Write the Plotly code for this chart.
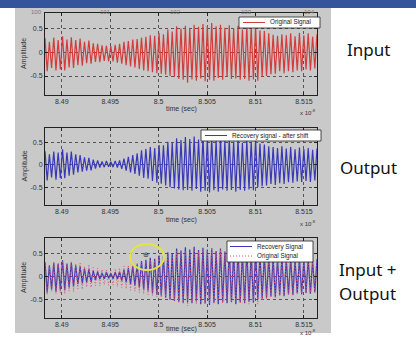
import numpy as np
import plotly.graph_objects as go

W, H = 416, 338

# ---------------- data ----------------
t_start = 8.48827          # left edge of the time window (x 1e-8 s)
t_end = 8.51635            # right edge
x_ticks = [8.49, 8.495, 8.5, 8.505, 8.51, 8.515]
x_tick_text = ["8.49", "8.495", "8.5", "8.505", "8.51", "8.515"]
y_ticks = [-0.5, 0, 0.5]
y_tick_text = ["-0.5", "0", "0.5"]

# per-cycle crest / trough values of the original (input) signal
orig_peaks = [0.30, 0.22, 0.31, 0.26, 0.34, 0.27, 0.32, 0.26, 0.29, 0.22, 0.25, 0.19, 0.18, 0.15,
              0.14, 0.13, 0.16, 0.18, 0.22, 0.24, 0.27, 0.28, 0.31, 0.33, 0.36, 0.35, 0.41, 0.38,
              0.48, 0.44, 0.55, 0.50, 0.56, 0.52, 0.58, 0.54, 0.60, 0.56, 0.62, 0.55, 0.58, 0.52,
              0.57, 0.50, 0.56, 0.48, 0.55, 0.52, 0.55, 0.46, 0.45, 0.40, 0.37, 0.35, 0.38, 0.36,
              0.40, 0.34, 0.41, 0.36, 0.40, 0.33, 0.38]
orig_troughs = [-0.40, -0.33, -0.38, -0.36, -0.38, -0.32, -0.33, -0.27, -0.28, -0.23, -0.24, -0.20,
                -0.21, -0.18, -0.19, -0.19, -0.22, -0.24, -0.27, -0.30, -0.32, -0.35, -0.38, -0.40,
                -0.42, -0.44, -0.45, -0.47, -0.50, -0.52, -0.56, -0.58, -0.64, -0.57, -0.60, -0.55,
                -0.61, -0.58, -0.60, -0.54, -0.58, -0.52, -0.56, -0.55, -0.58, -0.56, -0.60, -0.57,
                -0.60, -0.52, -0.50, -0.46, -0.45, -0.40, -0.44, -0.40, -0.42, -0.38, -0.40, -0.36,
                -0.38, -0.34]

# per-cycle crest / trough values of the recovered (output) signal
rec_peaks = [0.31, 0.24, 0.30, 0.28, 0.35, 0.28, 0.30, 0.24, 0.22, 0.17, 0.16, 0.12, 0.10, 0.08,
             0.09, 0.07, 0.09, 0.10, 0.14, 0.18, 0.22, 0.26, 0.33, 0.36, 0.40, 0.38, 0.45, 0.44,
             0.52, 0.50, 0.60, 0.56, 0.63, 0.58, 0.64, 0.57, 0.62, 0.58, 0.61, 0.55, 0.60, 0.54,
             0.58, 0.52, 0.57, 0.50, 0.56, 0.52, 0.57, 0.48, 0.46, 0.42, 0.40, 0.38, 0.42, 0.37,
             0.40, 0.35, 0.39, 0.36, 0.38, 0.34, 0.37]
rec_troughs = [-0.35, -0.28, -0.33, -0.30, -0.30, -0.24, -0.22, -0.17, -0.15, -0.13, -0.12, -0.08,
               -0.06, -0.05, -0.04, -0.05, -0.06, -0.09, -0.13, -0.17, -0.20, -0.24, -0.29, -0.31,
               -0.36, -0.40, -0.42, -0.46, -0.50, -0.53, -0.55, -0.57, -0.56, -0.58, -0.54, -0.60,
               -0.58, -0.62, -0.57, -0.60, -0.55, -0.58, -0.56, -0.60, -0.56, -0.58, -0.55, -0.57,
               -0.50, -0.48, -0.46, -0.43, -0.45, -0.41, -0.43, -0.39, -0.40, -0.37, -0.38, -0.36,
               -0.38, -0.35]

top_labels = ["100", "101", "102", "103", "104"]
legend_names = ["Original Signal", "Recovery signal - after shift", "Recovery Signal", "Original Signal"]
side_labels = ["Input", "Output", "Input +", "Output"]


def build(peaks, troughs):
    n = len(peaks)
    period = (t_end - t_start) / (n - 1)
    t, y = [], []
    for i in range(n):
        t.append(t_start + i * period)
        y.append(peaks[i])
        if i < len(troughs):
            t.append(t_start + (i + 0.5) * period)
            y.append(troughs[i])
    return np.array(t), np.array(y)


t_o, y_o = build(orig_peaks, orig_troughs)
t_r, y_r = build(rec_peaks, rec_troughs)

RED = "#d43c3c"
BLUE = "#3838b8"
RED_DOT = "#e0506a"


def px(x):
    return x / W


def py(y):
    return 1 - y / H


doms = [(13, 95), (128, 205), (238, 318)]
xdom = [px(45), px(317)]

fig = go.Figure()
fig.add_trace(go.Scatter(x=t_o, y=y_o, mode="lines", line=dict(color=RED, width=1.2),
                         name=legend_names[0], xaxis="x", yaxis="y", showlegend=False))
fig.add_trace(go.Scatter(x=t_r, y=y_r, mode="lines", line=dict(color=BLUE, width=1.2),
                         name=legend_names[1], xaxis="x2", yaxis="y2", showlegend=False))
fig.add_trace(go.Scatter(x=t_r, y=y_r, mode="lines", line=dict(color=BLUE, width=1.2),
                         name=legend_names[2], xaxis="x3", yaxis="y3", showlegend=False))
fig.add_trace(go.Scatter(x=t_o, y=y_o, mode="lines",
                         line=dict(color=RED_DOT, width=1, dash="1px,2px"),
                         name=legend_names[3], xaxis="x3", yaxis="y3", showlegend=False))

tickfont = dict(family="Liberation Sans, Arial, sans-serif", size=7, color="#333")
axis_common = dict(showline=True, linecolor="#222", linewidth=1, mirror="ticks",
                   ticks="inside", ticklen=3, tickcolor="#222", showgrid=True,
                   gridcolor="#555", griddash="dot", gridwidth=0.6, zeroline=False,
                   tickfont=tickfont)

layout = dict(width=W, height=H, margin=dict(l=0, r=0, t=0, b=0),
              paper_bgcolor="white", plot_bgcolor="white", showlegend=False)
for k, (top, bot) in enumerate(doms):
    s = "" if k == 0 else str(k + 1)
    layout["xaxis" + s] = dict(domain=xdom, range=[t_start, t_end], tickvals=x_ticks,
                               ticktext=x_tick_text, anchor="y" + s, **axis_common)
    layout["yaxis" + s] = dict(domain=[py(bot), py(top)], range=[-0.9, 0.83], tickvals=y_ticks,
                               ticktext=y_tick_text, anchor="x" + s, **axis_common)
fig.update_layout(**layout)


def prect(x0, y0, x1, y1, **kw):
    return dict(type="rect", xref="paper", yref="paper", x0=px(x0), x1=px(x1),
                y0=py(y1), y1=py(y0), **kw)


def pline(x0, x1, y, color, dash="solid"):
    return dict(type="line", xref="paper", yref="paper", x0=px(x0), x1=px(x1), y0=py(y), y1=py(y),
                line=dict(color=color, width=1, dash=dash))


shapes = [
    prect(15, 8, 331, 333, fillcolor="#c9c9c9", line=dict(width=0), layer="below"),
    prect(0, 0, 416, 8, fillcolor="#34559c", line=dict(width=0), layer="below"),
    # legend boxes
    prect(239, 17, 320, 28, fillcolor="white", line=dict(color="#222", width=0.8)),
    pline(243, 265, 22.5, RED),
    prect(201, 130, 321, 141, fillcolor="white", line=dict(color="#222", width=0.8)),
    pline(205, 227, 135.5, BLUE),
    prect(227, 241, 313, 262, fillcolor="white", line=dict(color="#222", width=0.8)),
    pline(230, 252, 246.5, BLUE),
    pline(230, 252, 256, RED_DOT, dash="1px,2px"),
    # highlight ellipse
    dict(type="circle", xref="paper", yref="paper", x0=px(130), x1=px(164), y0=py(270), y1=py(244),
         line=dict(color="#e4e440", width=2)),
]
fig.update_layout(shapes=shapes)

ann = []


def text(t, x, y, size=7, xa="center", color="#333", family="Liberation Sans, Arial, sans-serif", **kw):
    ann.append(dict(text=t, x=px(x), y=py(y), xref="paper", yref="paper", showarrow=False,
                    xanchor=xa, yanchor="middle", font=dict(family=family, size=size, color=color), **kw))


for top, bot in doms:
    text("Amplitude", 24, (top + bot) / 2, size=7, textangle=-90)
tl_y = [109, 220, 329]
x10_y = [112, 223, 332]
for k in range(3):
    text("time (sec)", 181, tl_y[k], size=7)
    text("x 10<sup>-8</sup>", 298, x10_y[k], size=6, xa="left")
for t, xx in zip(top_labels, [36, 105, 175, 246, 309]):
    text(t, xx, 12, size=6, color="#777")

lf = 6.3
text(legend_names[0], 268, 22.5, size=lf, xa="left", color="#222")
text(legend_names[1], 230, 135.5, size=lf, xa="left", color="#222")
text(legend_names[2], 255, 246.5, size=lf, xa="left", color="#222")
text(legend_names[3], 255, 256, size=lf, xa="left", color="#222")

sf = "Noto Sans, Open Sans, sans-serif"
text(side_labels[0], 345, 50, size=17, xa="left", color="#111", family=sf)
text(side_labels[1], 338, 167, size=17, xa="left", color="#111", family=sf)
text(side_labels[2], 337, 269, size=17, xa="left", color="#111", family=sf)
text(side_labels[3], 337, 293, size=17, xa="left", color="#111", family=sf)
text("⊕", 146, 255, size=7, family="DejaVu Sans")
fig.update_layout(annotations=ann)

fig.write_html("out.html", config={"displayModeBar": False},
               post_script="document.body.style.margin='0';document.body.style.overflow='hidden';")
